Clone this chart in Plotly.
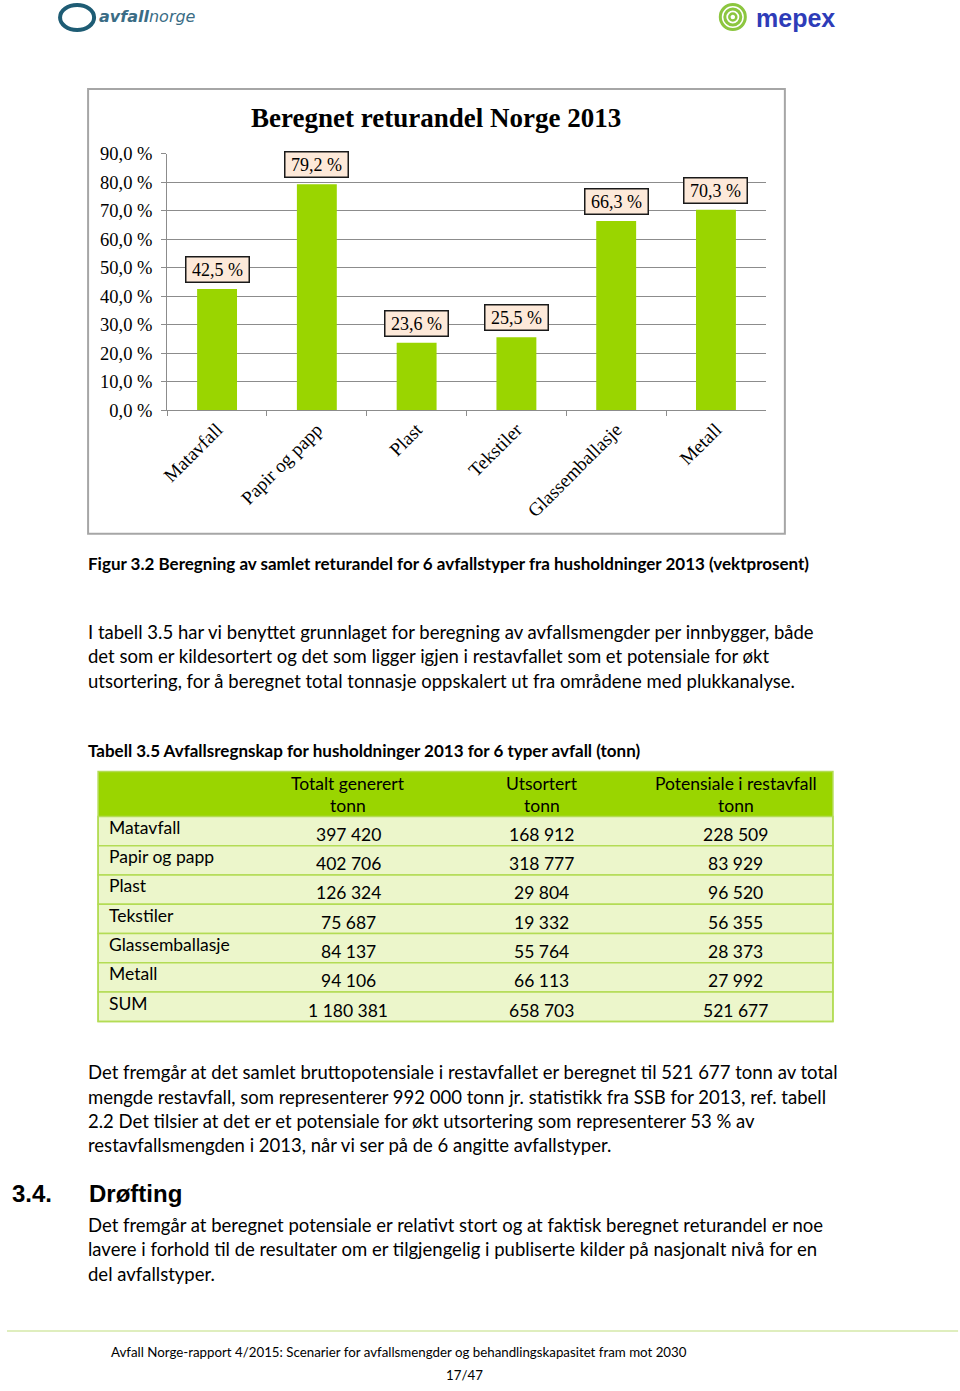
import plotly.graph_objects as go

W, H = 960, 1391

# ---------------- data ----------------
categories = ["Matavfall", "Papir og papp", "Plast", "Tekstiler", "Glassemballasje", "Metall"]
returandel = [42.5, 79.2, 23.6, 25.5, 66.3, 70.3]
y_tickvals = [0, 10, 20, 30, 40, 50, 60, 70, 80, 90]
y_ticktext = ["0,0 %", "10,0 %", "20,0 %", "30,0 %", "40,0 %", "50,0 %", "60,0 %", "70,0 %", "80,0 %", "90,0 %"]
bar_labels = ["42,5 %", "79,2 %", "23,6 %", "25,5 %", "66,3 %", "70,3 %"]

table_header_1 = ["Totalt generert", "Utsortert", "Potensiale i restavfall"]
table_header_2 = ["tonn", "tonn", "tonn"]
table_rows = ["Matavfall", "Papir og papp", "Plast", "Tekstiler", "Glassemballasje", "Metall", "SUM"]
totalt_generert = ["397 420", "402 706", "126 324", "75 687", "84 137", "94 106", "1 180 381"]
utsortert = ["168 912", "318 777", "29 804", "19 332", "55 764", "66 113", "658 703"]
potensiale = ["228 509", "83 929", "96 520", "56 355", "28 373", "27 992", "521 677"]

chart_title = "Beregnet returandel Norge 2013"
figure_caption = "Figur 3.2 Beregning av samlet returandel for 6 avfallstyper fra husholdninger 2013 (vektprosent)"
para1 = ["I tabell 3.5 har vi benyttet grunnlaget for beregning av avfallsmengder per innbygger, både",
         "det som er kildesortert og det som ligger igjen i restavfallet som et potensiale for økt",
         "utsortering, for å beregnet total tonnasje oppskalert ut fra områdene med plukkanalyse."]
table_caption = "Tabell 3.5 Avfallsregnskap for husholdninger 2013 for 6 typer avfall (tonn)"
para2 = ["Det fremgår at det samlet bruttopotensiale i restavfallet er beregnet til 521 677 tonn av total",
         "mengde restavfall, som representerer 992 000 tonn jr. statistikk fra SSB for 2013, ref. tabell",
         "2.2 Det tilsier at det er et potensiale for økt utsortering som representerer 53 % av",
         "restavfallsmengden i 2013, når vi ser på de 6 angitte avfallstyper."]
para3 = ["Det fremgår at beregnet potensiale er relativt stort og at faktisk beregnet returandel er noe",
         "lavere i forhold til de resultater om er tilgjengelig i publiserte kilder på nasjonalt nivå for en",
         "del avfallstyper."]
footer = "Avfall Norge-rapport 4/2015: Scenarier for avfallsmengder og behandlingskapasitet fram mot 2030"
page_no = "17/47"


# page-pixel -> paper conversion (compensates the small offset/scale seen in the rendered page)
def px(x):
    return ((x - 8.0) / 0.9916) / W


def py(y):
    return 1 - ((y - 9.0) / 0.9863) / H


SERIF = "Liberation Serif"
SANS = "Lato"
GREEN = "#9AD500"
ROWFILL = "#ECF6CB"
ROWLINE = "#B3DC55"

fig = go.Figure()

fig.add_trace(go.Bar(
    x=categories, y=returandel, marker=dict(color=GREEN, line=dict(width=0)),
    hoverinfo="skip", showlegend=False))

# data labels
for c, v, t in zip(categories, returandel, bar_labels):
    fig.add_annotation(x=c, y=v, xref="x", yref="y", text=t, showarrow=False,
                       yanchor="bottom", yshift=6, font=dict(family=SERIF, size=18, color="#000"),
                       bgcolor="#FDE9D9", bordercolor="#1a1a1a", borderwidth=1.5, borderpad=2,
                       width=58, height=20)

shapes = []
# chart border
shapes.append(dict(type="rect", xref="paper", yref="paper", x0=px(89), x1=px(785), y0=py(533), y1=py(88),
                   line=dict(color="#A6A6A6", width=2), layer="below"))

# ---------------- table (shapes + text) ----------------
T_LEFT, T_RIGHT, T_TOP, HEAD_H, ROW_H = 99, 833, 771, 45, 29.3
col_centers = [349, 542, 736]
shapes.append(dict(type="rect", xref="paper", yref="paper", x0=px(T_LEFT), x1=px(T_RIGHT),
                   y0=py(T_TOP + HEAD_H), y1=py(T_TOP), fillcolor=GREEN, line=dict(width=0), layer="below"))
for i in range(len(table_rows)):
    top = T_TOP + HEAD_H + i * ROW_H
    shapes.append(dict(type="rect", xref="paper", yref="paper", x0=px(T_LEFT), x1=px(T_RIGHT),
                       y0=py(top + ROW_H), y1=py(top), fillcolor=ROWFILL,
                       line=dict(color=ROWLINE, width=1.5), layer="below"))
shapes.append(dict(type="rect", xref="paper", yref="paper", x0=px(T_LEFT), x1=px(T_RIGHT),
                   y0=py(T_TOP + HEAD_H + len(table_rows) * ROW_H), y1=py(T_TOP),
                   line=dict(color=ROWLINE, width=1.5), layer="below"))

# footer line
shapes.append(dict(type="line", xref="paper", yref="paper", x0=0, x1=px(958), y0=py(1331), y1=py(1331),
                   line=dict(color="#D5E9A8", width=1.5)))
# avfallnorge ring logo
shapes.append(dict(type="circle", xref="paper", yref="paper", x0=px(61), x1=px(95), y0=py(29), y1=py(4),
                   line=dict(color="#1E5C74", width=4)))
# mepex spiral logo
for r, w in [(12.5, 3), (8, 3), (3.5, 2.5)]:
    shapes.append(dict(type="circle", xref="paper", yref="paper", x0=px(733 - r), x1=px(733 + r),
                       y0=py(16 + r), y1=py(16 - r), line=dict(color="#8CC63F", width=w)))
fig.update_layout(shapes=shapes)


def text(x, y, s, size=18.5, family=SANS, bold=False, color="#000", xanchor="left"):
    xs = x - 2 if xanchor == "left" else x
    fig.add_annotation(x=px(xs), y=py(y), xref="paper", yref="paper", text=("<b>%s</b>" % s) if bold else s,
                       showarrow=False, xanchor=xanchor, yanchor="middle",
                       font=dict(family=family, size=size, color=color))


# table text
for j, (h1, h2) in enumerate(zip(table_header_1, table_header_2)):
    text(col_centers[j], 783, h1, size=17.5, xanchor="center")
    text(col_centers[j], 805, h2, size=17.5, xanchor="center")
for i, lab in enumerate(table_rows):
    top = T_TOP + HEAD_H + i * ROW_H
    text(110, top + 11, lab, size=17.5)
    for j, col in enumerate([totalt_generert, utsortert, potensiale]):
        text(col_centers[j], top + 18, col[i], size=17.5, xanchor="center")

# logos text
fig.add_annotation(x=px(98), y=py(16), xref="paper", yref="paper", showarrow=False, xanchor="left",
                   yanchor="middle", text="<i><b>avfall</b>norge</i>",
                   font=dict(family="DejaVu Sans", size=16, color="#3A6C85"))
text(756, 17, "mepex", size=25, family="Liberation Sans", bold=True, color="#2E3CB8")

# chart title
text(437, 117, chart_title, size=27, family=SERIF, bold=True, xanchor="center")

text(89, 563, figure_caption, size=17, bold=True)
for i, s in enumerate(para1):
    text(89, 631 + i * 24.5, s)
text(89, 750, table_caption, size=17, bold=True)
for i, s in enumerate(para2):
    text(89, 1072 + i * 24.3, s)
text(13, 1193, "3.4.", size=24, family="Liberation Sans", bold=True)
text(90, 1193, "Drøfting", size=24, family="Liberation Sans", bold=True)
for i, s in enumerate(para3):
    text(89, 1225 + i * 24.3, s)
text(112, 1352, footer, size=13.3)
text(465, 1375, page_no, size=13.3, xanchor="center")

fig.update_layout(
    width=W, height=H, margin=dict(l=0, r=0, t=0, b=0),
    paper_bgcolor="white", plot_bgcolor="white",
    bargap=0.6,
    xaxis=dict(domain=[px(168), px(766)], showgrid=False, showline=True, linecolor="#8C8C8C", linewidth=1,
               ticks="outside", tickson="boundaries", ticklen=5, tickcolor="#8C8C8C", tickangle=-45,
               tickfont=dict(family=SERIF, size=19, color="#000"), anchor="y"),
    yaxis=dict(domain=[py(409.3), py(152.7)], range=[0, 90], tickvals=y_tickvals, ticktext=y_ticktext,
               showgrid=True, gridcolor="#8C8C8C", gridwidth=1, showline=True, linecolor="#8C8C8C",
               ticks="outside", ticklen=5, tickcolor="#8C8C8C", zeroline=False, ticklabelstandoff=5,
               tickfont=dict(family=SERIF, size=18.5, color="#000"), anchor="x"),
)

fig.write_html("out.html")
